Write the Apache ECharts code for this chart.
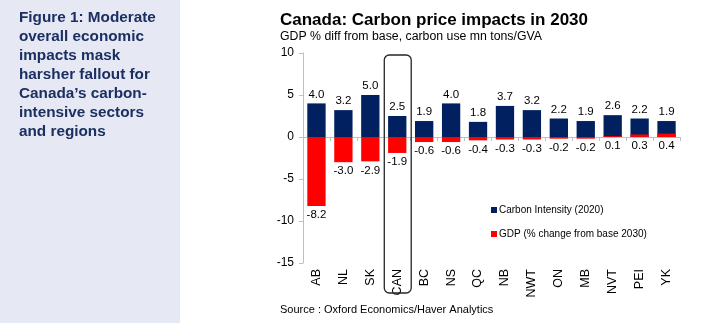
<!DOCTYPE html>
<html><head><meta charset="utf-8">
<script src="https://cdn.jsdelivr.net/npm/echarts@6/dist/echarts.min.js"></script>
<style>html,body{margin:0;padding:0;background:#fff}#c{width:728px;height:323px}</style>
</head><body><div id="c"></div>
<script>
const categories = ['AB','NL','SK','CAN','BC','NS','QC','NB','NWT','ON','MB','NVT','PEI','YK'];
const carbonIntensity = [4.0,3.2,5.0,2.5,1.9,4.0,1.8,3.7,3.2,2.2,1.9,2.6,2.2,1.9];
const gdpChange = [-8.2,-3.0,-2.9,-1.9,-0.6,-0.6,-0.4,-0.3,-0.3,-0.2,-0.2,0.1,0.3,0.4];
const yTicks = {min:-15, max:10, interval:5};
const sideText = ['Figure 1: Moderate','overall economic','impacts mask','harsher fallout for','Canada\u2019s carbon-','intensive sectors','and regions'];
const highlightCategory = 'CAN';

const chart = echarts.init(document.getElementById('c'), null, {renderer:'canvas'});
const FONT = '"Liberation Sans", Arial, sans-serif';
const option = {
  animation:false,
  textStyle:{fontFamily:FONT},
  title:[
    {text:'Canada: Carbon price impacts in 2030', left:275, top:7, textStyle:{fontFamily:FONT,fontSize:17,fontWeight:'bold',color:'#000'}},
    {text:'GDP % diff from base, carbon use mn tons/GVA', left:275, top:26, textStyle:{fontFamily:FONT,fontSize:12.3,fontWeight:'normal',color:'#000'}},
    {text:'Source : Oxford Economics/Haver Analytics', left:275, top:299, textStyle:{fontFamily:FONT,fontSize:11,fontWeight:'normal',color:'#000'}}
  ],
  legend:{
    orient:'vertical', left:486, top:200, itemGap:14, itemWidth:6, itemHeight:6, icon:'rect',
    textStyle:{fontFamily:FONT,fontSize:10,color:'#000',padding:[0,0,0,-3]},
    data:['Carbon Intensity (2020)','GDP (% change from base 2030)']
  },
  grid:{left:303, right:48, top:53, bottom:60, containLabel:false},
  xAxis:{
    type:'category', data:categories,
    axisLine:{onZero:true, lineStyle:{color:'#bfbfbf'}},
    axisTick:{show:true, length:4, lineStyle:{color:'#bfbfbf'}},
    axisLabel:{rotate:90, fontSize:12.5, color:'#000', fontFamily:FONT, margin:6, verticalAlign:'middle', align:'right'},
    position:'bottom'
  },
  yAxis:{
    type:'value', min:yTicks.min, max:yTicks.max, interval:yTicks.interval,
    axisLine:{show:true, lineStyle:{color:'#bfbfbf'}},
    axisTick:{show:true, length:4, lineStyle:{color:'#bfbfbf'}},
    splitLine:{show:false},
    axisLabel:{fontSize:12, color:'#000', fontFamily:FONT, margin:9}
  },
  series:[
    {name:'Carbon Intensity (2020)', type:'bar', data:carbonIntensity, barWidth:'68%', barGap:'-100%',
     itemStyle:{color:'#002060'},
     label:{show:true, position:'top', distance:3, fontSize:11.5, color:'#000', formatter:p=>p.value.toFixed(1)}},
    {name:'GDP (% change from base 2030)', type:'bar', data:gdpChange, barWidth:'68%', barGap:'-100%',
     itemStyle:{color:'#ff0000'},
     label:{show:true, position:'bottom', distance:3, fontSize:11.5, color:'#000', formatter:p=>p.value.toFixed(1)}}
  ],
  graphic:[
    {type:'rect', left:0, top:0, shape:{width:180, height:323}, style:{fill:'#e6e9f3'}, z:-10},
    {type:'text', left:19, top:8, style:{text:sideText.join('\n'), font:'bold 15.3px '+FONT, fill:'#1b2f63', lineHeight:19}}
  ]
};
chart.setOption(option);
// Highlight box around CAN, positioned from the axis scale
const idx = categories.indexOf(highlightCategory);
const p0 = chart.convertToPixel({gridIndex:0}, [idx, yTicks.max]);
const pL = chart.convertToPixel({gridIndex:0}, [0, yTicks.max]);
const pR = chart.convertToPixel({gridIndex:0}, [1, yTicks.max]);
const band = pR[0]-pL[0];
chart.setOption({graphic:[
  option.graphic[0], option.graphic[1],
  {type:'rect', shape:{x:p0[0]-band/2+0.5, y:p0[1]+2, width:band, height:238, r:5},
   style:{fill:'none', stroke:'#262626', lineWidth:1.3}, z:10}
]});
</script></body></html>
